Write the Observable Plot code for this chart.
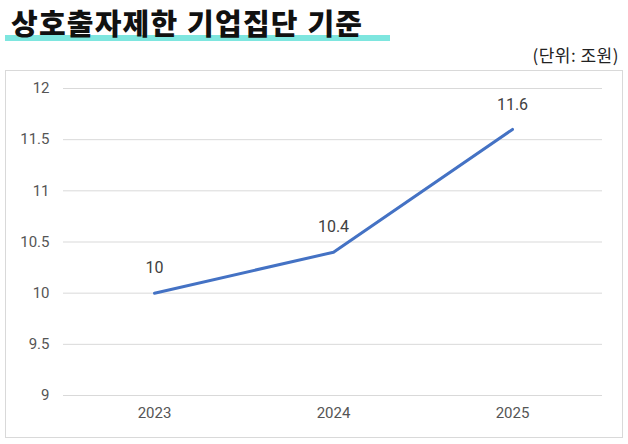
<!DOCTYPE html>
<html><head><meta charset="utf-8">
<script src="https://cdn.jsdelivr.net/npm/d3@7"></script>
<script src="https://cdn.jsdelivr.net/npm/@observablehq/plot@0.6"></script>
<style>
body{margin:0;background:#fff;width:628px;height:444px;position:relative;overflow:hidden;font-family:Roboto,"Noto Sans CJK KR",sans-serif;}
#title{position:absolute;left:11px;top:3px;font-family:"Noto Sans CJK KR",sans-serif;font-weight:900;font-size:29px;color:#111;letter-spacing:1.2px;word-spacing:1px;z-index:2;line-height:38px;white-space:nowrap;}
#hl{position:absolute;left:5px;top:35px;width:385px;height:6px;background:#7ee6df;z-index:1;}
#unit{position:absolute;right:9px;top:45px;font-family:"Noto Sans CJK KR",sans-serif;font-size:17px;line-height:20px;color:#222;letter-spacing:0.5px;}
#box{position:absolute;left:5px;top:70px;width:616px;height:366px;border:1px solid #d9d9d9;}
</style></head><body>
<div id="hl"></div>
<div id="title">상호출자제한 기업집단 기준</div>
<div id="unit">(단위: 조원)</div>
<div id="box"></div>
<script>
const years = ["2023","2024","2025"];
const values = [10, 10.4, 11.6];
const yTicks = [9, 9.5, 10, 10.5, 11, 11.5, 12];
const data = years.map((y,i)=>({year:y, value:values[i]}));
const chart = Plot.plot({
  width:616, height:366,
  marginLeft:57, marginRight:20, marginTop:17, marginBottom:42,
  style:{fontFamily:"Roboto, sans-serif", fontSize:"15px", color:"#555", background:"transparent"},
  x:{type:"point", domain:years, padding:0.5, label:null, tickSize:0, tickPadding:12},
  y:{domain:[9,12], ticks:yTicks, label:null, tickSize:0, tickPadding:14, tickFormat:d=>String(d)},
  marks:[
    Plot.gridY(yTicks,{stroke:"#d9d9d9", strokeOpacity:1, strokeWidth:1}),
    Plot.line(data,{x:"year", y:"value", stroke:"#4472C4", strokeWidth:3}),
    Plot.text(data,{x:"year", y:"value", text:d=>String(d.value), dy:-25, fill:"#404040", fontSize:16, fontWeight:400})
  ]
});
document.getElementById("box").appendChild(chart);
</script>
</body></html>
